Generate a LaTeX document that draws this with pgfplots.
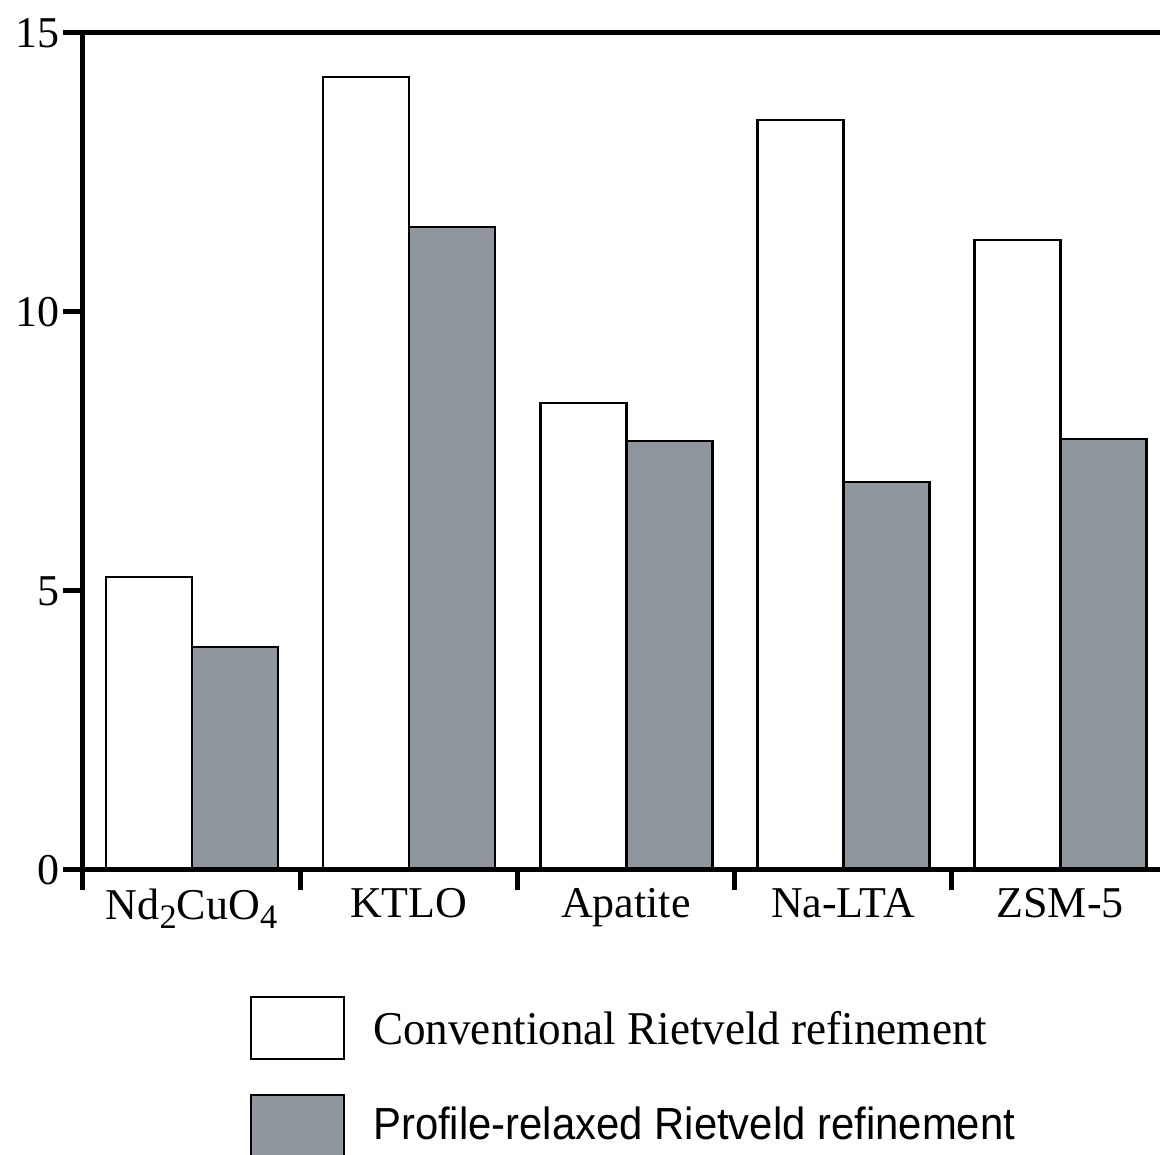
\documentclass[border=0pt]{standalone}
\usepackage{fontspec}
\setmainfont{Liberation Serif}
\newfontfamily\sansfont{Liberation Sans}
\usepackage{graphicx}
\usepackage{pgfplots}
\pgfplotsset{compat=1.18}
\definecolor{barfill}{RGB}{143,150,157}
\newcommand{\sub}[1]{\raisebox{-0.22em}{\scalebox{0.78}{#1}}}
\begin{document}
\begin{tikzpicture}
\begin{axis}[
  name=ax,
  scale only axis,
  width=1077pt, height=837pt,
  xmin=0, xmax=4.96, ymin=0, ymax=15,
  axis x line*=bottom, axis y line*=left,
  axis line style={line width=5pt, -},
  axis on top,
  xtick={0,1,2,3,4}, xticklabels={},
  ytick={0,5,10,15},
  tick style={line width=5pt, black},
  major tick length=20pt, tick align=outside,
  extra x ticks={0.5,1.5,2.5,3.5,4.5},
  extra x tick labels={Nd\sub{2}CuO\sub{4}, KTLO, Apatite, Na-LTA, ZSM-5},
  extra x tick style={major tick length=0pt, tick label style={yshift=-15pt}},
  tick label style={font=\fontsize{44}{50}\selectfont},
  /pgf/number format/assume math mode=true,
  ybar, bar width=0.396, bar shift=0pt,
  clip=false,
]
% conventional refinement
\addplot[fill=white, draw=black, line width=2.5pt] coordinates
  {(0.304,5.25) (1.304,14.21) (2.304,8.37) (3.304,13.44) (4.304,11.29)};
% profile-relaxed refinement
\addplot[fill=barfill, draw=black, line width=2.5pt] coordinates
  {(0.700,4.00) (1.700,11.52) (2.700,7.69) (3.700,6.95) (4.700,7.72)};
% top frame line
\draw[line width=5pt] (axis cs:0,15) -- (axis cs:4.96,15);
\end{axis}
% legend
\begin{scope}[shift={(ax.south west)}]
  \draw[line width=2.5pt, fill=white] (168pt,-127pt) rectangle (261pt,-189pt);
  \draw[line width=2.5pt, fill=barfill] (168pt,-225pt) rectangle (261pt,-290pt);
  \node[anchor=base west, inner sep=0pt] at (290pt,-175pt)
    {\scalebox{0.96}[1]{\fontsize{47}{55}\selectfont Conventional Rietveld refinement}};
  \node[anchor=base west, inner sep=0pt] at (290pt,-270pt)
    {\scalebox{0.93}[1]{\fontsize{45}{54}\selectfont\sansfont Profile-relaxed Rietveld refinement}};
  \pgfresetboundingbox
  \path[use as bounding box] (-83pt,870pt) rectangle (1077pt,-285pt);
\end{scope}
\end{tikzpicture}
\end{document}
